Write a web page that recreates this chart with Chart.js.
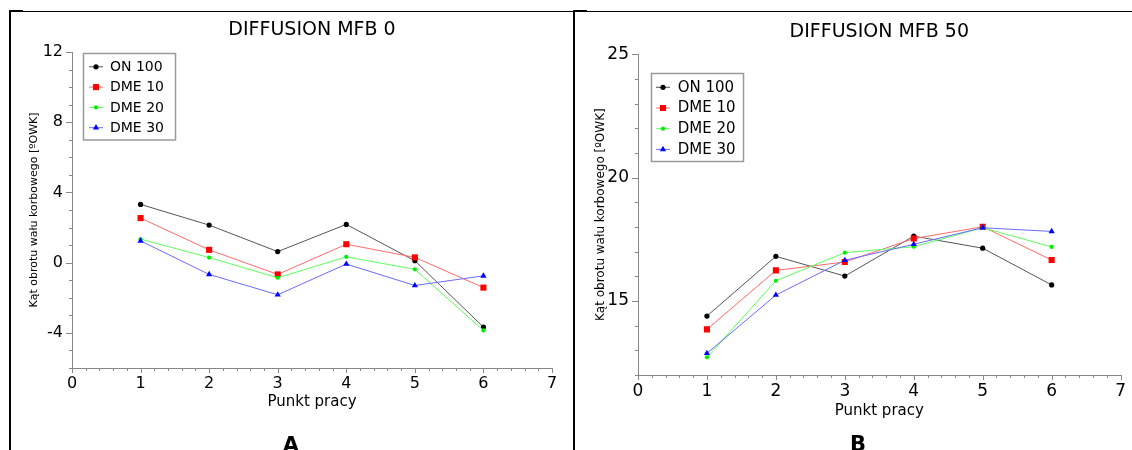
<!DOCTYPE html>
<html>
<head>
<meta charset="utf-8">
<script src="https://cdn.jsdelivr.net/npm/chart.js@4/dist/chart.umd.min.js"></script>
<style>
html, body { margin: 0; padding: 0; background: #fff; }
body { width: 1132px; height: 450px; position: relative; overflow: hidden; font-family: 'DejaVu Sans', sans-serif; }
canvas { position: absolute; top: 0; }
.ramka { position: absolute; background: #000; }
.litera { position: absolute; width: 40px; text-align: center; font: bold 21px 'DejaVu Sans'; line-height: 21px; color: #000; }
</style>
</head>
<body>
<canvas id="wykresA" width="566" height="450" style="left:0"></canvas>
<canvas id="wykresB" width="558" height="450" style="left:574px"></canvas>

<div class="ramka" style="left:9px;top:11px;width:1123px;height:1px"></div>
<div class="ramka" style="left:9px;top:10px;width:14px;height:2px"></div>
<div class="ramka" style="left:9px;top:10px;width:2px;height:440px"></div>
<div class="ramka" style="left:573px;top:10px;width:2px;height:440px"></div>
<div class="ramka" style="left:573px;top:10px;width:14px;height:2px"></div>

<div class="litera" style="left:271px;top:435px">A</div>
<div class="litera" style="left:838px;top:434px">B</div>

<script>
// punkty pracy i serie
const punkty = [1, 2, 3, 4, 5, 6];
const serie = ['ON 100', 'DME 10', 'DME 20', 'DME 30'];

// MFB 0
const mfb0_on100 = [3.32, 2.14, 0.63, 2.18, 0.11, -3.67];
const mfb0_dme10 = [2.54, 0.73, -0.67, 1.05, 0.30, -1.42];
const mfb0_dme20 = [1.34, 0.29, -0.86, 0.33, -0.38, -3.86];
const mfb0_dme30 = [1.24, -0.67, -1.83, -0.08, -1.30, -0.75];

// MFB 50
const mfb50_on100 = [14.39, 16.81, 16.01, 17.63, 17.14, 15.65];
const mfb50_dme10 = [13.85, 16.24, 16.58, 17.53, 18.01, 16.66];
const mfb50_dme20 = [12.72, 15.82, 16.96, 17.20, 17.97, 17.19];
const mfb50_dme30 = [12.88, 15.24, 16.65, 17.30, 17.97, 17.82];

// etykiety osi
const xTicks = [0, 1, 2, 3, 4, 5, 6, 7];
const yTicksA = [-4, 0, 4, 8, 12];
const yTicksB = [15, 20, 25];

const style = [
    { linia: '#555555', punkt: '#000000', ksztalt: 'circle', r: 2.6 },
    { linia: '#ff6a6a', punkt: '#ff0000', ksztalt: 'rect', r: 4.3 },
    { linia: '#5cff5c', punkt: '#00ee00', ksztalt: 'circle', r: 2.1 },
    { linia: '#6a6aff', punkt: '#0000ff', ksztalt: 'triangle', r: 3.6 }
];

Chart.defaults.font.family = "'DejaVu Sans', sans-serif";
Chart.defaults.color = '#000';

const osiePlugin = {
    id: 'osie',
    afterDraw(chart, args, opts) {
        const ctx = chart.ctx;
        const sx = chart.scales.x, sy = chart.scales.y;
        const area = chart.chartArea;
        ctx.save();
        ctx.strokeStyle = '#888';
        ctx.lineWidth = 1;
        ctx.beginPath();
        for (let i = 0; i <= 35; i++) {
            const px = Math.round(sx.getPixelForValue(i / 5)) + 0.5;
            const len = i % 5 === 0 ? 5 : 3;
            ctx.moveTo(px, area.bottom);
            ctx.lineTo(px, area.bottom + len);
        }
        for (let v = sy.min; v <= sy.max; v++) {
            const py = Math.round(sy.getPixelForValue(v)) + 0.5;
            const len = opts.yMajor.includes(v) ? 6 : 3;
            ctx.moveTo(area.left, py);
            ctx.lineTo(area.left - len, py);
        }
        ctx.stroke();
        ctx.restore();
    }
};

const legendaPlugin = {
    id: 'legenda',
    afterDraw(chart, args, L) {
        const ctx = chart.ctx;
        ctx.save();
        ctx.fillStyle = '#fff';
        ctx.fillRect(L.x, L.y, L.w, L.h);
        ctx.strokeStyle = '#999';
        ctx.lineWidth = 1.5;
        ctx.strokeRect(L.x, L.y, L.w, L.h);
        chart.data.datasets.forEach((ds, i) => {
            const yy = L.y + L.first + i * L.row;
            ctx.strokeStyle = ds.borderColor;
            ctx.lineWidth = 1;
            ctx.beginPath();
            ctx.moveTo(L.lx0, yy);
            ctx.lineTo(L.lx1, yy);
            ctx.stroke();
            ctx.fillStyle = ds.pointBackgroundColor;
            const cx = (L.lx0 + L.lx1) / 2;
            if (Chart.helpers && Chart.helpers.drawPoint) {
                Chart.helpers.drawPoint(ctx, { pointStyle: ds.pointStyle, radius: ds.pointRadius, borderWidth: 0, rotation: 0 }, cx, yy);
            } else {
                ctx.beginPath();
                ctx.arc(cx, yy, ds.pointRadius, 0, Math.PI * 2);
                ctx.fill();
            }
            ctx.fillStyle = '#000';
            ctx.font = L.font + "px 'DejaVu Sans'";
            ctx.textBaseline = 'middle';
            ctx.fillText(ds.label, L.tx, yy + 0.5);
        });
        ctx.restore();
    }
};

function zbiory(wartosci) {
    return wartosci.map((w, i) => ({
        label: serie[i],
        data: punkty.map((p, j) => ({ x: p, y: w[j] })),
        borderColor: style[i].linia,
        borderWidth: 1,
        pointBackgroundColor: style[i].punkt,
        pointBorderWidth: 0,
        pointStyle: style[i].ksztalt,
        pointRadius: style[i].r,
        tension: 0,
        order: serie.length - 1 - i
    }));
}

function rysujWykres(id, k) {
    new Chart(document.getElementById(id), {
        type: 'line',
        data: { datasets: zbiory(k.wartosci) },
        plugins: [osiePlugin, legendaPlugin],
        options: {
            responsive: false,
            animation: false,
            devicePixelRatio: 1,
            layout: { padding: k.padding },
            plugins: {
                legend: { display: false },
                tooltip: { enabled: false },
                title: {
                    display: true,
                    text: k.tytul,
                    fullSize: false,
                    color: '#000',
                    font: { size: 19, weight: 'normal' },
                    padding: k.tytulPadding
                },
                osie: { yMajor: k.yTicks },
                legenda: k.legenda
            },
            scales: {
                x: {
                    type: 'linear',
                    min: 0,
                    max: 7,
                    afterBuildTicks: s => { s.ticks = xTicks.map(v => ({ value: v })); },
                    afterFit: s => { s.height = 52; },
                    grid: { display: false, drawTicks: false },
                    border: { color: '#888', width: 1 },
                    ticks: { font: { size: k.tickFont }, color: '#000', padding: 6, maxRotation: 0, autoSkip: false },
                    title: { display: true, text: 'Punkt pracy', color: '#000', font: { size: 15 }, padding: { top: 0, bottom: k.xTitleBottom } }
                },
                y: {
                    type: 'linear',
                    min: k.yMin,
                    max: k.yMax,
                    afterBuildTicks: s => { s.ticks = k.yTicks.map(v => ({ value: v })); },
                    afterFit: s => { s.width = k.yWidth; },
                    grid: { display: false, drawTicks: false },
                    border: { color: '#888', width: 1 },
                    ticks: { font: { size: k.tickFont }, color: '#000', padding: 9, autoSkip: false },
                    title: { display: true, text: 'Kąt obrotu wału korbowego [ºOWK]', color: '#000', font: { size: k.yTitleFont }, padding: { top: k.yTitleTop, bottom: 0 } }
                }
            }
        }
    });
}

rysujWykres('wykresA', {
    wartosci: [mfb0_on100, mfb0_dme10, mfb0_dme20, mfb0_dme30],
    tytul: 'DIFFUSION MFB 0',
    yMin: -6, yMax: 12, yTicks: yTicksA,
    padding: { left: 0, right: 14, top: 0, bottom: 30 },
    tytulPadding: { top: 19, bottom: 10.2 },
    yWidth: 72, tickFont: 16, yTitleFont: 11, yTitleTop: 27.4, xTitleBottom: 9,
    legenda: { x: 83.5, y: 53.5, w: 92, h: 86.5, first: 13.3, row: 20.3, lx0: 89, lx1: 103, tx: 110, font: 14 }
});

rysujWykres('wykresB', {
    wartosci: [mfb50_on100, mfb50_dme10, mfb50_dme20, mfb50_dme30],
    tytul: 'DIFFUSION MFB 50',
    yMin: 12, yMax: 25, yTicks: yTicksB,
    padding: { left: 0, right: 9.5, top: 0, bottom: 23 },
    tytulPadding: { top: 21.1, bottom: 10.4 },
    yWidth: 64, tickFont: 17, yTitleFont: 12, yTitleTop: 19.8, xTitleBottom: 7.3,
    legenda: { x: 77.5, y: 73.5, w: 92, h: 88, first: 13.8, row: 20.7, lx0: 82, lx1: 96, tx: 103.7, font: 15 }
});
</script>
</body>
</html>
